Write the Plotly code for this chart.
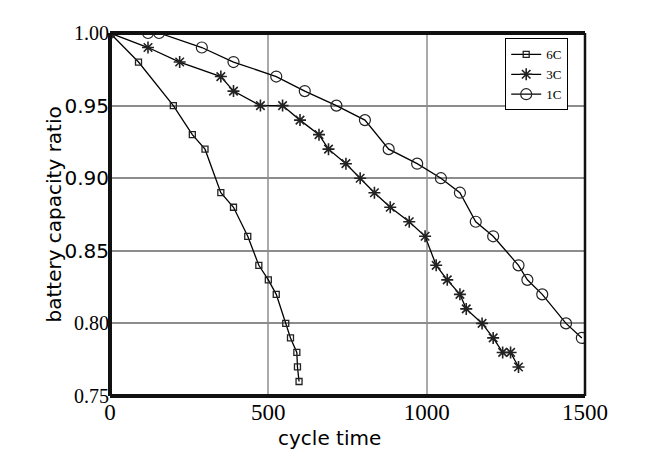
import plotly.graph_objects as go

x_6c = [0, 90, 200, 260, 300, 350, 390, 435, 470, 500, 525, 555, 570, 590, 592, 597]
y_6c = [1.00, 0.98, 0.95, 0.93, 0.92, 0.89, 0.88, 0.86, 0.84, 0.83, 0.82, 0.80, 0.79, 0.78, 0.77, 0.76]

x_3c = [0, 120, 220, 350, 390, 475, 545, 600, 660, 690, 745, 790, 835, 885, 945, 995,
        1030, 1065, 1105, 1125, 1175, 1210, 1240, 1265, 1290]
y_3c = [1.00, 0.99, 0.98, 0.97, 0.96, 0.95, 0.95, 0.94, 0.93, 0.92, 0.91, 0.90, 0.89, 0.88, 0.87, 0.86,
        0.84, 0.83, 0.82, 0.81, 0.80, 0.79, 0.78, 0.78, 0.77]

x_1c = [0, 120, 155, 290, 390, 525, 615, 715, 805, 880, 970, 1045, 1105, 1155, 1210, 1290, 1318, 1365, 1440, 1490]
y_1c = [1.00, 1.00, 1.00, 0.99, 0.98, 0.97, 0.96, 0.95, 0.94, 0.92, 0.91, 0.90, 0.89, 0.87, 0.86, 0.84, 0.83, 0.82, 0.80, 0.79]

x_ticks = [0, 500, 1000, 1500]
y_ticks = [0.75, 0.80, 0.85, 0.90, 0.95, 1.00]
SERIF = "Liberation Serif, Times New Roman, serif"
SANS = "DejaVu Sans, sans-serif"
y_tick_fonts = ["Liberation Serif", "Liberation Serif", "DejaVu Sans", "DejaVu Sans", "DejaVu Sans", "Liberation Serif"]
y_tick_text = [f"<span style='font-family:{f}'>{v:.2f}</span>" for v, f in zip(y_ticks, y_tick_fonts)]

fig = go.Figure()
fig.add_trace(go.Scatter(x=x_6c, y=y_6c, name="6C", mode="lines+markers",
                         line=dict(color="black", width=1.3),
                         marker=dict(symbol="square-open", size=6, color="#222",
                                     line=dict(color="#222", width=1.3))))
fig.add_trace(go.Scatter(x=x_3c, y=y_3c, name="3C", mode="lines+markers",
                         line=dict(color="black", width=1.3),
                         marker=dict(symbol="asterisk-open", size=10, color="#222",
                                     line=dict(color="#222", width=1.6))))
fig.add_trace(go.Scatter(x=x_1c, y=y_1c, name="1C", mode="lines+markers",
                         line=dict(color="black", width=1.3),
                         marker=dict(symbol="circle-open", size=11, color="#222",
                                     line=dict(color="#222", width=1.2))))

fig.update_layout(
    width=651, height=462,
    margin=dict(l=110, r=66, t=33, b=66),
    paper_bgcolor="white", plot_bgcolor="white",
    showlegend=True,
    legend=dict(x=0.832, y=0.985, xanchor="left", yanchor="top",
                bgcolor="white", bordercolor="black", borderwidth=1,
                font=dict(family=SERIF, size=13, color="black"),
                tracegroupgap=0, itemwidth=30),
    font=dict(family=SERIF, color="black"),
)
fig.update_xaxes(range=[0, 1500], tickvals=x_ticks, ticktext=[str(v) for v in x_ticks],
                 tickfont=dict(family=SERIF, size=23, color="black"),
                 showgrid=True, gridcolor="#aaaaaa", gridwidth=1.5,
                 zeroline=False, showline=False, ticks="", fixedrange=True)
fig.update_yaxes(range=[0.75, 1.0], tickvals=y_ticks, ticktext=y_tick_text,
                 tickfont=dict(family=SERIF, size=20, color="black"),
                 showgrid=True, gridcolor="#8c8c8c", gridwidth=2,
                 zeroline=False, showline=False, ticks="", fixedrange=True)

# frame
fig.add_shape(type="line", xref="paper", yref="paper", x0=0, x1=0, y0=0, y1=1, line=dict(color="#111", width=4))
fig.add_shape(type="line", xref="paper", yref="paper", x0=0, x1=1, y0=0, y1=0, line=dict(color="#111", width=4))
fig.add_shape(type="line", xref="paper", yref="paper", x0=0, x1=1, y0=1, y1=1, line=dict(color="#111", width=4))
fig.add_shape(type="line", xref="paper", yref="paper", x0=1, x1=1, y0=0, y1=1, line=dict(color="#111", width=2.5))

fig.add_annotation(text="battery capacity ratio", xref="paper", yref="paper",
                   x=-0.12, y=0.5, xanchor="center", yanchor="middle", textangle=-90,
                   showarrow=False, font=dict(family=SANS, size=20, color="black"))
fig.add_annotation(text="cycle time", xref="paper", yref="paper",
                   x=0.463, y=-0.115, xanchor="center", yanchor="middle",
                   showarrow=False, font=dict(family=SANS, size=20, color="black"))

fig.write_html("out.html")
